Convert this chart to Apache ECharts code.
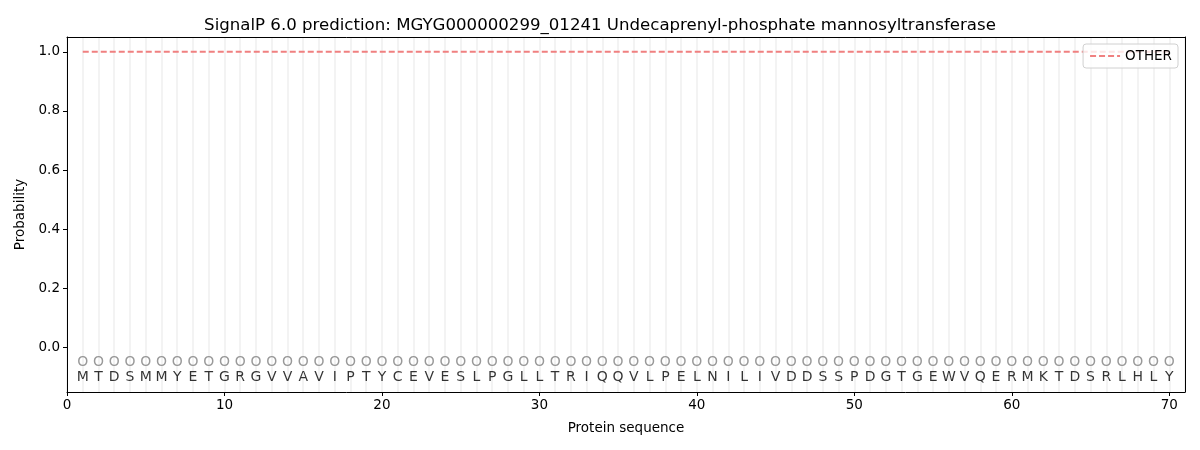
<!DOCTYPE html>
<html>
<head>
<meta charset="utf-8">
<script src="https://cdn.jsdelivr.net/npm/echarts@6/dist/echarts.min.js"></script>
<style>
	html, body {margin: 0; padding: 0; background: #fff;}
	#chart {width: 1200px; height: 450px;}
</style>
</head>
<body>
<div id="chart"></div>
<script>
'use strict';
var residues = 'MTDSMMYETGRGVVAVIPTYCEVESLPGLLTRIQQVLPELNILIVDDSSPDGTGEWVQERMKTDSRLHLY'.split(''),
		otherProb = [
			1, 1, 1, 1, 1, 1, 1, 1, 1, 1,
			1, 1, 1, 1, 1, 1, 1, 1, 1, 1,
			1, 1, 1, 1, 1, 1, 1, 1, 1, 1,
			1, 1, 1, 1, 1, 1, 1, 1, 1, 1,
			1, 1, 1, 1, 1, 1, 1, 1, 1, 1,
			1, 1, 1, 1, 1, 1, 1, 1, 1, 1,
			1, 1, 1, 1, 1, 1, 1, 1, 1, 1
		],
		xTicks = [0, 10, 20, 30, 40, 50, 60, 70],
		yTicks = [0, 0.2, 0.4, 0.6, 0.8, 1.0],
		font = 'DejaVu Sans';

var chart = echarts.init(document.getElementById('chart'));

var lineData = [], markData = [], letterData = [];
for (var i = 0; i < residues.length; i++) {
	lineData.push([i + 1, otherProb[i]]);
	markData.push([i + 1, -0.05, 'O']);
	letterData.push([i + 1, -0.1, residues[i]]);
}

function textSeries(data, color, name) {
	return {
		name: name,
		type: 'scatter',
		symbolSize: 0,
		silent: true,
		data: data,
		label: {
			show: true,
			position: 'inside',
			color: color,
			fontFamily: font,
			fontSize: 14,
			formatter: function (p) { return p.value[2]; }
		}
	};
}

chart.setOption({
	animation: false,
	title: {
		text: 'SignalP 6.0 prediction: MGYG000000299_01241 Undecaprenyl-phosphate mannosyltransferase',
		left: 'center',
		top: 12,
		textStyle: {fontFamily: font, fontSize: 16.6, fontWeight: 'normal', color: '#000'}
	},
	legend: {
		data: ['OTHER'],
		right: 22,
		top: 44,
		itemWidth: 30,
		itemHeight: 10,
		itemGap: 8,
		padding: [5, 6, 5, 6],
		backgroundColor: 'rgba(255,255,255,0.8)',
		borderColor: '#d0d0d0',
		borderWidth: 1,
		borderRadius: 3,
		itemStyle: {opacity: 0},
		textStyle: {fontFamily: font, fontSize: 13.5, color: '#000'}
	},
	grid: {left: 67, right: 15, top: 37, bottom: 58},
	xAxis: [
		{
			type: 'value',
			min: 0,
			max: 71,
			name: 'Protein sequence',
			nameLocation: 'middle',
			nameGap: 29,
			nameTextStyle: {fontFamily: font, fontSize: 13.5, color: '#000'},
			axisLine: {onZero: false, lineStyle: {color: '#000'}},
			axisTick: {customValues: xTicks, length: 4, lineStyle: {color: '#000'}},
			axisLabel: {customValues: xTicks, fontFamily: font, fontSize: 13.5, color: '#000', margin: 6},
			splitLine: {show: false}
		},
		{
			type: 'value',
			position: 'top',
			min: 0,
			max: 71,
			interval: 1,
			axisLine: {show: true, onZero: false, lineStyle: {color: '#000'}},
			axisTick: {show: false},
			axisLabel: {show: false},
			splitLine: {show: true, lineStyle: {color: '#efefef', width: 1.5}}
		}
	],
	yAxis: [
		{
			type: 'value',
			min: -0.15,
			max: 1.05,
			name: 'Probability',
			nameLocation: 'middle',
			nameGap: 38,
			nameTextStyle: {fontFamily: font, fontSize: 13.5, color: '#000'},
			axisLine: {show: true, onZero: false, lineStyle: {color: '#000'}},
			axisTick: {show: true, customValues: yTicks, length: 4, lineStyle: {color: '#000'}},
			axisLabel: {
				customValues: yTicks,
				fontFamily: font,
				fontSize: 13.5,
				color: '#000',
				margin: 7,
				formatter: function (v) { return v.toFixed(1); }
			},
			splitLine: {show: false}
		},
		{
			type: 'value',
			position: 'right',
			min: -0.15,
			max: 1.05,
			axisLine: {show: true, onZero: false, lineStyle: {color: '#000'}},
			axisTick: {show: false},
			axisLabel: {show: false},
			splitLine: {show: false}
		}
	],
	series: [
		{
			name: 'OTHER',
			type: 'line',
			data: lineData,
			symbol: 'none',
			lineStyle: {color: '#f08080', width: 2, type: [6, 3]},
			itemStyle: {color: '#f08080'}
		},
		textSeries(markData, '#808080', 'marks'),
		textSeries(letterData, '#000', 'letters')
	]
});
</script>
</body>
</html>
